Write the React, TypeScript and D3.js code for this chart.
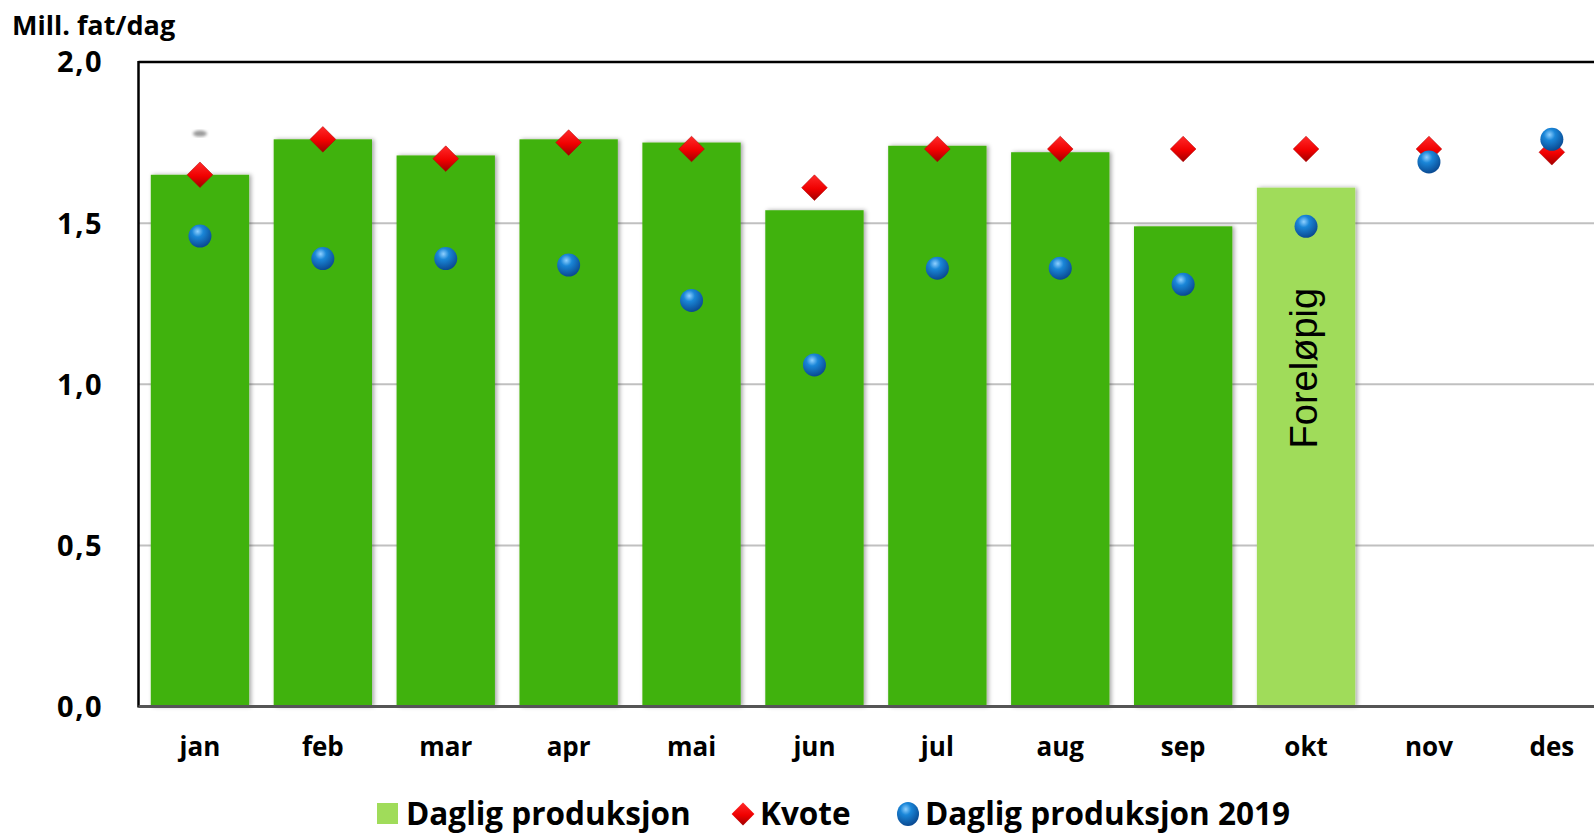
import React from "react"
import * as d3 from "d3"

const months = ["jan", "feb", "mar", "apr", "mai", "jun", "jul", "aug", "sep", "okt", "nov", "des"]
// daily production (million barrels/day), okt is preliminary
const production = [1.65, 1.76, 1.71, 1.76, 1.75, 1.54, 1.74, 1.72, 1.49, 1.61]
const quota = [1.65, 1.76, 1.70, 1.75, 1.73, 1.61, 1.73, 1.73, 1.73, 1.73, 1.73, 1.72]
const production2019 = [1.46, 1.39, 1.39, 1.37, 1.26, 1.06, 1.36, 1.36, 1.31, 1.49, 1.69, 1.76]
const yTicks = [0, 0.5, 1.0, 1.5, 2.0]
const preliminaryMonth = "okt"

const W = 1594
const H = 835
const margin = { top: 62, left: 138.5, bottom: 128 }
const font = "'Open Sans', Lato, sans-serif"

const App = () => {
  const x = d3
    .scaleBand<string>()
    .domain(months)
    .range([margin.left, 1613.3])
    .paddingInner(0.2)
    .paddingOuter(0.1)

  const y = d3
    .scaleLinear()
    .domain([0, 2])
    .range([H - margin.bottom - 0.5, margin.top])

  const fmt = (v: number) => d3.format(".1f")(v).replace(".", ",")
  const cx = (m: string) => x(m)! + x.bandwidth() / 2

  const diamond = d3.symbol(d3.symbolDiamond2, 420)()!
  const legendY = 814

  return (
    <svg
      width={W}
      height={H}
      style={{ position: "absolute", left: 0, top: 0, background: "#fff" }}
    >
      <defs>
        <radialGradient id="ball" cx="0.4" cy="0.3" r="0.7">
          <stop offset="0" stopColor="#8fd0ff" />
          <stop offset="0.35" stopColor="#1a86d8" />
          <stop offset="1" stopColor="#0a4a92" />
        </radialGradient>
        <linearGradient id="dia" x1="0" y1="0" x2="0" y2="1">
          <stop offset="0" stopColor="#ff2a2a" />
          <stop offset="0.55" stopColor="#f00000" />
          <stop offset="1" stopColor="#a00000" />
        </linearGradient>
        <filter id="shadow" x="-10%" y="-5%" width="125%" height="110%">
          <feDropShadow dx="2" dy="0" stdDeviation="2" floodColor="#000" floodOpacity="0.35" />
        </filter>
        <filter id="blur">
          <feGaussianBlur stdDeviation="1.5" />
        </filter>
      </defs>

      {/* gridlines */}
      {yTicks.slice(1, -1).map((t) => (
        <line
          key={t}
          x1={margin.left}
          x2={W}
          y1={y(t)}
          y2={y(t)}
          stroke="#c0c0c0"
          strokeWidth={2}
        />
      ))}

      {/* bars */}
      {production.map((v, i) => (
        <rect
          key={months[i]}
          x={x(months[i])}
          y={y(v)}
          width={x.bandwidth()}
          height={y(0) - y(v)}
          fill={months[i] === preliminaryMonth ? "#a0dc5a" : "#40b20a"}
          filter="url(#shadow)"
        />
      ))}

      {/* small grey smudge above jan */}
      <ellipse cx={cx("jan")} cy={y(1.778)} rx={7} ry={3} fill="#999" filter="url(#blur)" />

      <text
        transform={`translate(${cx(preliminaryMonth) + 11},${y(1.05)}) rotate(-90)`}
        textAnchor="middle"
        fontFamily="'Liberation Sans', Arial, sans-serif"
        fontSize={38}
        fill="#000"
      >
        Foreløpig
      </text>

      {/* axes frame */}
      <line x1={margin.left} x2={W} y1={y(2)} y2={y(2)} stroke="#000" strokeWidth={2.5} />
      <line x1={margin.left} x2={margin.left} y1={y(2) - 1} y2={y(0) + 1} stroke="#000" strokeWidth={2.5} />
      <line x1={margin.left} x2={W} y1={y(0)} y2={y(0)} stroke="#555" strokeWidth={3} />

      {/* quota diamonds */}
      {quota.map((v, i) => (
        <path
          key={"q" + i}
          d={diamond}
          transform={`translate(${cx(months[i])},${y(v)})`}
          fill="url(#dia)"
          stroke="#b00000"
          strokeWidth={0.5}
        />
      ))}

      {/* 2019 production dots */}
      {production2019.map((v, i) => (
        <circle
          key={"p" + i}
          cx={cx(months[i])}
          cy={y(v)}
          r={11.5}
          fill="url(#ball)"
        />
      ))}

      {/* y tick labels */}
      {yTicks.map((t) => (
        <text
          key={t}
          x={103}
          y={y(t)}
          dy="0.36em"
          textAnchor="end"
          fontFamily={font}
          fontWeight={700}
          fontSize={29}
          letterSpacing={1.5}
          fill="#000"
        >
          {fmt(t)}
        </text>
      ))}

      <text x={12} y={35} fontFamily={font} fontWeight={700} fontSize={27} fill="#000">
        Mill. fat/dag
      </text>

      {/* x labels */}
      {months.map((m) => (
        <text
          key={m}
          x={cx(m)}
          y={756}
          textAnchor="middle"
          fontFamily={font}
          fontWeight={700}
          fontSize={26}
          fill="#000"
        >
          {m}
        </text>
      ))}

      {/* legend */}
      <g fontFamily={font} fontWeight={700} fontSize={31.5} fill="#000">
        <rect x={377} y={legendY - 11} width={21} height={21} fill="#a0dc5a" />
        <text x={406} y={legendY} dy="0.35em">Daglig produksjon</text>
        <path d={d3.symbol(d3.symbolDiamond2, 330)()!} transform={`translate(743,${legendY})`} fill="url(#dia)" />
        <text x={760} y={legendY} dy="0.35em">Kvote</text>
        <ellipse cx={908} cy={legendY} rx={11} ry={12} fill="url(#ball)" />
        <text x={925} y={legendY} dy="0.35em">Daglig produksjon 2019</text>
      </g>
    </svg>
  )
}

export default App
